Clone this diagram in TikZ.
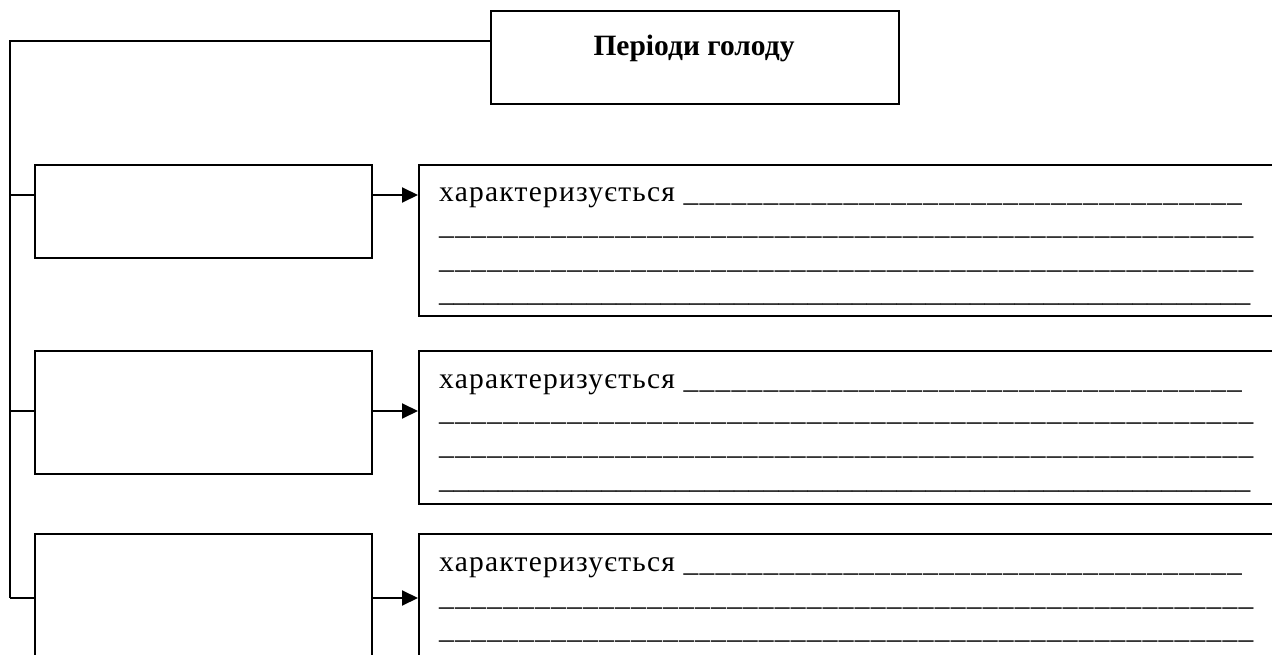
\documentclass[tikz,border=0pt]{standalone}
\usepackage{fontspec}
\setmainfont{Liberation Serif}
\newfontfamily\bodyfont[LetterSpace=4.2]{Liberation Serif}
\usetikzlibrary{arrows.meta}
\ExplSyntaxOn
\cs_new:Npn \usrep #1 {\prg_replicate:nn {#1} {\_}}
\ExplSyntaxOff
\begin{document}
\begin{tikzpicture}[x=1pt,y=-1pt,
  box/.style={draw, line width=2pt, rectangle, inner sep=0pt, anchor=north west},
  conn/.style={line width=2pt},
  arr/.style={line width=2pt, -{Triangle[length=16pt,width=15pt]}},
  txt/.style={anchor=base west, inner sep=0pt, font=\bodyfont\fontsize{29.5}{30}\selectfont},
  txtb/.style={anchor=base west, inner sep=0pt, font=\fontsize{29.5}{30}\selectfont},
  title/.style={anchor=base, inner sep=0pt, font=\bfseries\fontsize{29.5}{30}\selectfont}]
\useasboundingbox (0,0) rectangle (1272,655);
\clip (0,0) rectangle (1272,655);
\fill[white] (0,0) rectangle (1272,655);
% top box
\node[box, minimum width=408pt, minimum height=93pt] (T) at (490,10) {};
\node[title] (Tt) at (694,56) {Періоди голоду};
% left boxes
\node[box, minimum width=337pt, minimum height=93pt] (L1) at (34,164) {};
\node[box, minimum width=337pt, minimum height=123pt] (L2) at (34,350) {};
\node[box, minimum width=337pt, minimum height=160pt] (L3) at (34,533) {};
% right boxes
\node[box, minimum width=900pt, minimum height=151pt] (R1) at (418,164) {};
\node[box, minimum width=900pt, minimum height=153pt] (R2) at (418,350) {};
\node[box, minimum width=900pt, minimum height=170pt] (R3) at (418,533) {};
% spine
\coordinate (j0) at (10,41);
\coordinate (j1) at (10,195);
\coordinate (j2) at (10,411);
\coordinate (j3) at (10,598);
\draw[conn] (T.west |- j0) -- (j0) -- (j3);
\draw[conn] (j1) -- (L1.west |- j1);
\draw[conn] (j2) -- (L2.west |- j2);
\draw[conn] (j3) -- (L3.west |- j3);
\draw[arr] (L1.east |- j1) -- (R1.west |- j1);
\draw[arr] (L2.east |- j2) -- (R2.west |- j2);
\draw[arr] (L3.east |- j3) -- (R3.west |- j3);
% texts box 1
\node[txt] (a1) at (439,202) {характеризується \usrep{35}};
\node[txt] (a2) at (439,235) {\usrep{51}};
\node[txt] (a3) at (439,269) {\usrep{51}};
\node[txtb] (a4) at (439,301) {\usrep{55}};
% texts box 2
\node[txt] (b1) at (439,388) {характеризується \usrep{35}};
\node[txt] (b2) at (439,420) {\usrep{51}};
\node[txt] (b3) at (439,454) {\usrep{51}};
\node[txtb] (b4) at (439,488) {\usrep{55}};
% texts box 3
\node[txt] (c1) at (439,571) {характеризується \usrep{35}};
\node[txt] (c2) at (439,605) {\usrep{51}};
\node[txt] (c3) at (439,638) {\usrep{51}};
\end{tikzpicture}
\end{document}
